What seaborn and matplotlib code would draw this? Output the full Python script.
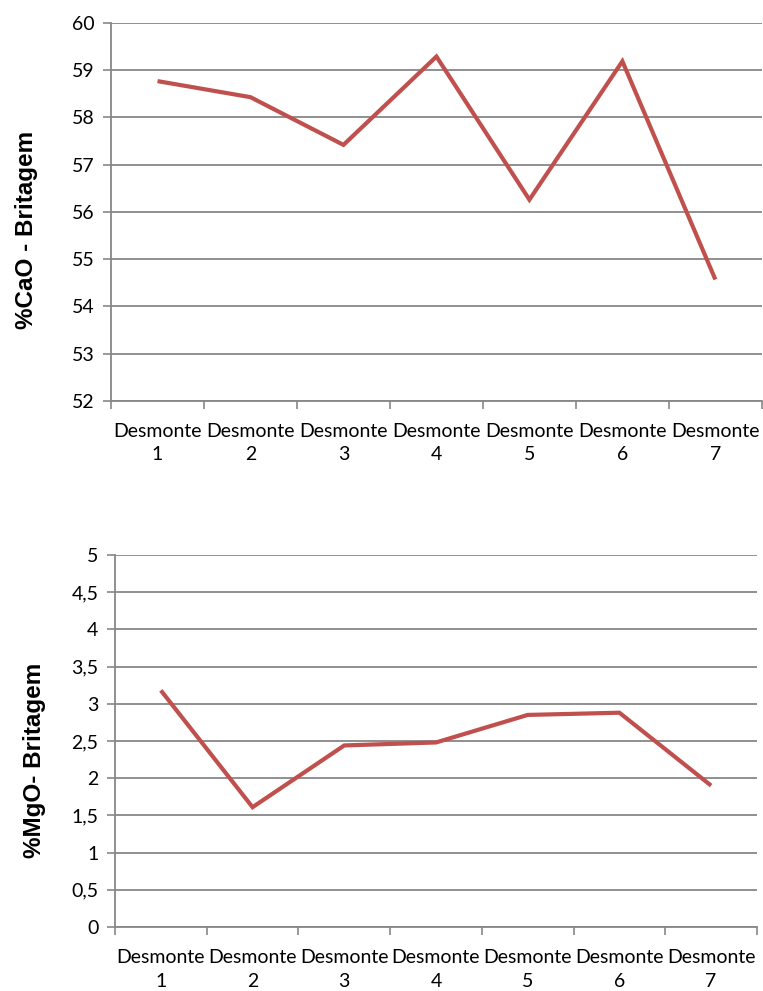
import numpy as np
import pandas as pd
import matplotlib
matplotlib.use("Agg")
import matplotlib.pyplot as plt
import seaborn as sns

# --------------------------------------------------
# DATA
# --------------------------------------------------
desmontes = ["Desmonte\n1", "Desmonte\n2", "Desmonte\n3", "Desmonte\n4",
             "Desmonte\n5", "Desmonte\n6", "Desmonte\n7"]
cao_britagem = [58.77, 58.43, 57.42, 59.29, 56.26, 59.19, 54.57]
mgo_britagem = [3.18, 1.61, 2.44, 2.48, 2.85, 2.88, 1.90]

cao_ticks = [52, 53, 54, 55, 56, 57, 58, 59, 60]
mgo_ticks = [0, 0.5, 1, 1.5, 2, 2.5, 3, 3.5, 4, 4.5, 5]
mgo_ticklabels = ["0", "0,5", "1", "1,5", "2", "2,5", "3", "3,5", "4", "4,5", "5"]

# --------------------------------------------------
# THEME
# --------------------------------------------------
sns.set_theme(style="white")
plt.rcParams['font.family'] = ['Lato', 'DejaVu Sans']

LINE_RED = "#C0504D"
GRID_GREY = "#878787"


def style_axis(ax, ticks, ticklabels, ylabel, label_x, label_y):
    n = len(desmontes)
    ax.set_xlim(-0.5, n - 0.5)
    ax.set_ylim(ticks[0], ticks[-1])
    ax.set_yticks(ticks)
    ax.set_yticklabels(ticklabels, fontsize=14, color="black")
    # category boundaries carry the tick marks, centres carry the labels
    ax.set_xticks(np.arange(-0.5, n, 1.0))
    ax.set_xticklabels([""] * (n + 1))
    ax.set_xticks(np.arange(n), minor=True)
    ax.set_xticklabels(desmontes, minor=True, fontsize=14, color="black",
                       linespacing=1.45)
    ax.tick_params(axis="x", which="minor", length=0, pad=16)
    ax.tick_params(axis="x", which="major", length=6, width=1.2,
                   color=GRID_GREY, direction="out", bottom=True)
    ax.tick_params(axis="y", length=6, width=1.2, color=GRID_GREY,
                   direction="out", left=True, pad=6)
    ax.grid(axis="y", color=GRID_GREY, linewidth=1.3)
    ax.grid(axis="x", visible=False)
    for side in ["top", "right"]:
        ax.spines[side].set_visible(False)
    for side in ["left", "bottom"]:
        ax.spines[side].set_color(GRID_GREY)
        ax.spines[side].set_linewidth(1.3)
    ax.set_xlabel("")
    ax.set_ylabel(ylabel, fontsize=17.5, fontweight="bold", color="black",
                  family=["Liberation Sans", "DejaVu Sans"])
    ax.yaxis.set_label_coords(label_x, label_y)
    ax.set_axisbelow(True)


fig = plt.figure(figsize=(7.63, 9.91), dpi=100)
ax1 = fig.add_axes([0.1455, 0.5954, 0.853, 0.3814])
ax2 = fig.add_axes([0.1507, 0.0646, 0.8414, 0.3754])

df = pd.DataFrame({"pos": np.arange(len(desmontes)),
                   "CaO": cao_britagem, "MgO": mgo_britagem})

sns.lineplot(data=df, x="pos", y="CaO", ax=ax1, color=LINE_RED,
             linewidth=3.0, sort=False)
sns.lineplot(data=df, x="pos", y="MgO", ax=ax2, color=LINE_RED,
             linewidth=3.0, sort=False)

style_axis(ax1, cao_ticks, [str(t) for t in cao_ticks], "%CaO - Britagem", -0.112, 0.452)
style_axis(ax2, mgo_ticks, mgo_ticklabels, "%MgO- Britagem", -0.108, 0.449)

for ax in (ax1, ax2):
    for line in ax.get_lines():
        line.set_solid_joinstyle("miter")
        line.set_solid_capstyle("butt")

fig.savefig("out.png", dpi=100)
